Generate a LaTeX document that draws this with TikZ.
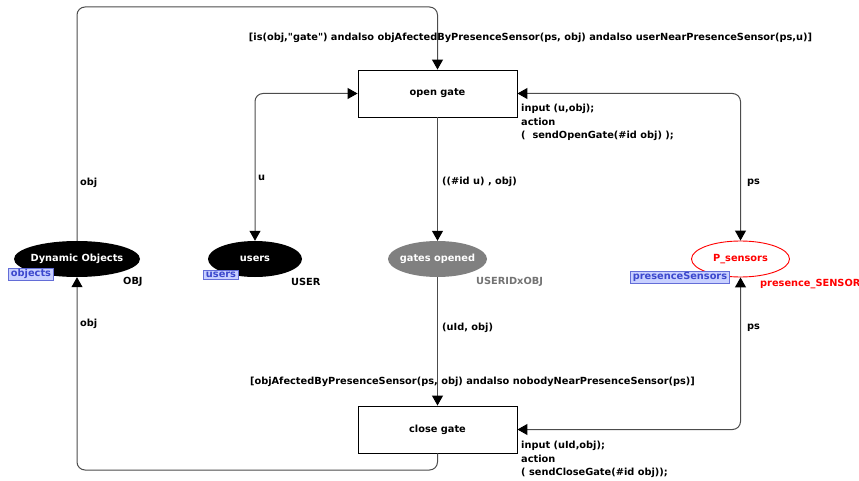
\documentclass[tikz,border=0pt]{standalone}
\usepackage{fontspec}
\setmainfont{DejaVu Sans}
\usetikzlibrary{shapes.geometric,arrows.meta}
\definecolor{markblue}{RGB}{60,72,205}
\definecolor{markfill}{RGB}{200,208,255}

\begin{document}
\begin{tikzpicture}[x=1pt, y=-1pt,
    every node/.style={font=\fontsize{9.8}{13.5}\selectfont\bfseries, inner sep=0pt},
    trans/.style={rectangle, draw=black, line width=0.9pt, fill=white, minimum width=159, minimum height=47},
    place/.style={ellipse, minimum height=36},
    initmark/.style={rectangle, draw=markblue!80, fill=markfill, text=markblue, inner xsep=2.5pt, inner ysep=1.5pt, font=\fontsize{9.8}{11}\selectfont\bfseries},
    arc/.style={draw=black!70, line width=1pt, rounded corners=8, -{Triangle[length=10pt,width=11pt,black]}},
    biarc/.style={arc, {Triangle[length=10pt,width=11pt,black]}-{Triangle[length=10pt,width=11pt,black]}}]
    \useasboundingbox (0,0) rectangle (859,481);

    % transitions
    \node [trans] (opengate) at (437.5,93.5) {open gate};
    \node [trans] (closegate) at (437.5,429.5) {close gate};

    % places
    \node [place, fill=black, text=white, minimum width=126] (dynobj) at (77,259) {\makebox[0pt]{Dynamic Objects}};
    \node [place, fill=black, text=white, minimum width=94] (users) at (255,259) {\makebox[0pt]{users}};
    \node [place, fill=black!50, text=white, minimum width=99] (gatesopened) at (437.5,259) {\makebox[0pt]{gates opened}};
    \node [place, draw=red, line width=0.9pt, fill=white, text=red, minimum width=98] (psensors) at (740.5,259) {\makebox[0pt]{P\_sensors}};

    % initial markings and colour sets
    \node [initmark] (objectsinit) at (31,274) {objects};
    \node [initmark] (usersinit) at (221,275) {users};
    \node [initmark] (sensorsinit) at (680,277) {presenceSensors};
    \node [anchor=west] (objset) at (123,282) {OBJ};
    \node [anchor=west] (userset) at (291,282) {USER};
    \node [anchor=west, text=black!55] (gateset) at (476,282) {USERIDxOBJ};
    \node [anchor=west, text=red] (sensorset) at (760,284) {presence\_SENSOR};

    % bend points
    \coordinate (ctop) at (437.5,7);
    \coordinate (cbot) at (437.5,470);

    % arcs
    \draw [arc] (dynobj.north) |- (ctop) -- (opengate.north);
    \draw [biarc] (users.north) |- (opengate.west);
    \draw [arc] (opengate.south) -- (gatesopened.north);
    \draw [biarc] (opengate.east) -| (psensors.north);
    \draw [arc] (gatesopened.south) -- (closegate.north);
    \draw [biarc] (closegate.east) -| (psensors.south);
    \draw [arc] (closegate.south) -- (cbot) -| (dynobj.south);

    % arc inscriptions
    \node [anchor=west] (objin) at (80,183) {obj};
    \node [anchor=west] (objout) at (80,324) {obj};
    \node [anchor=west] (uin) at (258,178) {u};
    \node [anchor=west] (idout) at (442,182) {((\#id u) , obj)};
    \node [anchor=west] (idin) at (442,328) {(uId, obj)};
    \node [anchor=west] (psopen) at (747,183) {ps};
    \node [anchor=west] (psclose) at (747,328) {ps};

    % guards and code segments
    \node (guardopen) at (530.5,38) {[is(obj,\textquotedbl gate\textquotedbl) andalso objAfectedByPresenceSensor(ps, obj) andalso userNearPresenceSensor(ps,u)]};
    \node (guardclose) at (472.5,382) {[objAfectedByPresenceSensor(ps, obj) andalso nobodyNearPresenceSensor(ps)]};
    \node [anchor=north west, align=left] (codeopen) at (521,104) {input (u,obj);\\action\\(\ \ sendOpenGate(\#id obj) );};
    \node [anchor=north west, align=left] (codeclose) at (521,441) {input (uId,obj);\\action\\( sendCloseGate(\#id obj));};
\end{tikzpicture}
\end{document}
